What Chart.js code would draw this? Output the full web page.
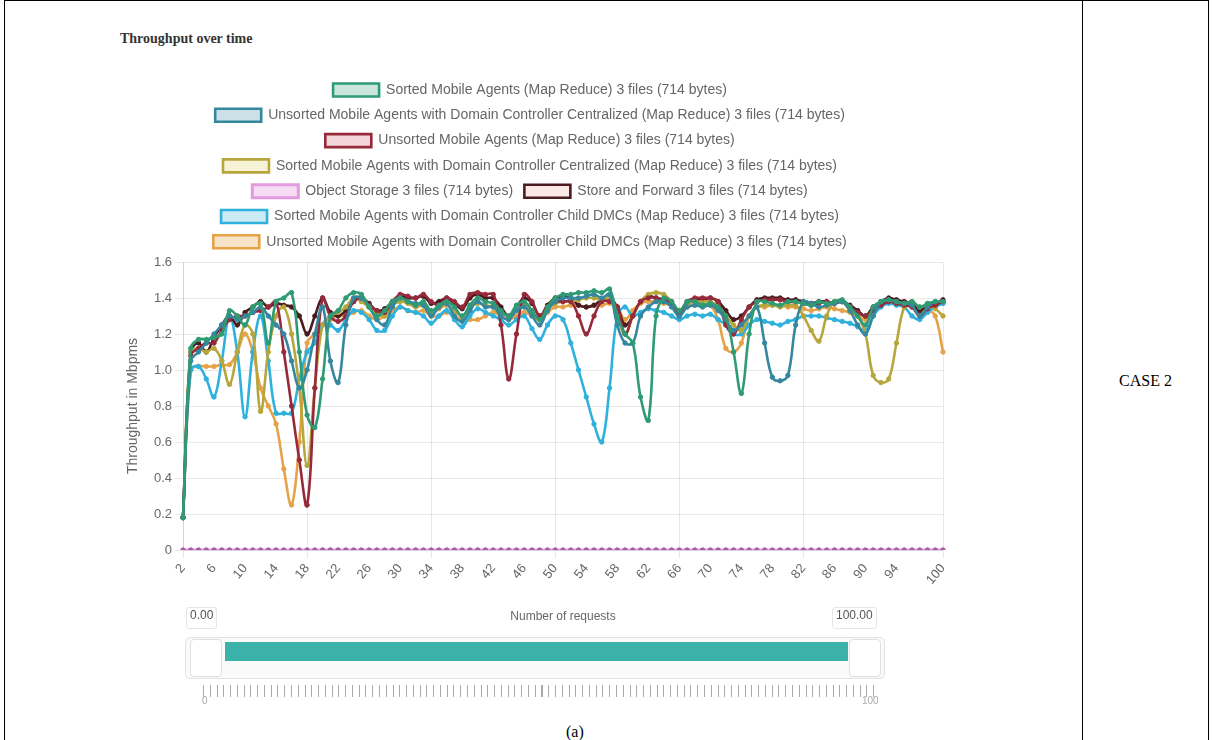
<!DOCTYPE html>
<html>
<head>
<meta charset="utf-8">
<script src="https://cdn.jsdelivr.net/npm/chart.js@4.4.1/dist/chart.umd.min.js"></script>
<style>
  html, body { margin: 0; padding: 0; background: #fff; width: 1213px; height: 740px; overflow: hidden; }
  .frame { position: absolute; left: 4px; top: 0; width: 1205px; height: 800px; border: 1px solid #000; box-sizing: border-box; }
  .divider { position: absolute; left: 1082px; top: 0; width: 1px; height: 740px; background: #000; }
  .case { position: absolute; left: 1083px; width: 125px; top: 372px; text-align: center;
          font: 16px "Liberation Serif", "Times New Roman", serif; color: #000; }
  .caption { position: absolute; left: 566px; top: 723px; font: 16px "Liberation Serif", "Times New Roman", serif; color: #000; }
  .panel-title { position: absolute; left: 120px; top: 31px; font: bold 14px "Liberation Serif", serif; color: #333; }
  #wrap { position: absolute; left: 112px; top: 60px; width: 836px; height: 580px; }
  .val { position: absolute; top: 607px; height: 20px; line-height: 20px; padding: 0 3px;
         font: 12px "Liberation Sans", Arial, sans-serif; color: #555;
         border: 1px solid #e6e6e6; border-radius: 3px; background: #fff; }
  .track { position: absolute; left: 185px; top: 637px; width: 700px; height: 42px;
           border: 1px solid #e2e2e2; border-radius: 5px; background: #fafafa; box-sizing: border-box; }
  .bar { position: absolute; left: 225px; top: 642px; width: 623px; height: 19px; background: #3bb2a9; }
  .handle { position: absolute; top: 639px; width: 32px; height: 38px; background: #fff;
            border: 1px solid #e0e0e0; border-radius: 4px; box-sizing: border-box; }
  .ruler { position: absolute; left: 203px; top: 685px; width: 677px; height: 12px;
           background: repeating-linear-gradient(90deg, #aaa 0, #aaa 1px, transparent 1px, transparent 6.77px); }
  .rlab { position: absolute; top: 695px; font: 10px "Liberation Sans", Arial, sans-serif; color: #aaa; }
</style>
</head>
<body>
<div class="frame"></div>
<div class="divider"></div>
<div class="case">CASE 2</div>
<div class="caption">(a)</div>

<div class="panel-title">Throughput over time</div>
<div id="wrap"><canvas id="chart"></canvas></div>

<div class="val" style="left:186px;">0.00</div>
<div class="val" style="left:832px;">100.00</div>
<div class="track"></div>
<div class="bar"></div>
<div class="handle" style="left:190px;"></div>
<div class="handle" style="left:849px;"></div>
<div class="ruler"></div>
<div class="rlab" style="left:202px;">0</div>
<div class="rlab" style="left:862px;">100</div>

<script>
// Request numbers on the x axis
const requests = [2, 3, 4, 5, 6, 7, 8, 9, 10, 11, 12, 13, 14, 15, 16, 17, 18, 19, 20, 21,
  22, 23, 24, 25, 26, 27, 28, 29, 30, 31, 32, 33, 34, 35, 36, 37, 38, 39, 40, 41,
  42, 43, 44, 45, 46, 47, 48, 49, 50, 51, 52, 53, 54, 55, 56, 57, 58, 59, 60, 61,
  62, 63, 64, 65, 66, 67, 68, 69, 70, 71, 72, 73, 74, 75, 76, 77, 78, 79, 80, 81,
  82, 83, 84, 85, 86, 87, 88, 89, 90, 91, 92, 93, 94, 95, 96, 97, 98, 99, 100];

// Throughput per request for each configuration
const sortedMobileAgents = [
  0.18, 1.12, 1.17, 1.17, 1.18, 1.2, 1.33, 1.3, 1.25, 1.35,
  1.37, 1.15, 1.38, 1.4, 1.43, 1.1, 0.75, 0.68, 0.95, 1.3,
  1.33, 1.4, 1.43, 1.42, 1.35, 1.3, 1.33, 1.38, 1.4, 1.38,
  1.36, 1.38, 1.33, 1.36, 1.38, 1.35, 1.3, 1.36, 1.4, 1.38,
  1.37, 1.33, 1.3, 1.36, 1.38, 1.33, 1.28, 1.35, 1.4, 1.42,
  1.42, 1.43, 1.43, 1.44, 1.43, 1.45, 1.3, 1.2, 1.15, 0.85,
  0.72, 1.3, 1.4, 1.38, 1.33, 1.38, 1.38, 1.36, 1.37, 1.35,
  1.3, 1.1, 0.87, 1.2, 1.38, 1.38, 1.37, 1.36, 1.38, 1.38,
  1.37, 1.36, 1.38, 1.37, 1.38, 1.39, 1.35, 1.3, 1.25, 1.35,
  1.38, 1.39, 1.38, 1.37, 1.38, 1.35, 1.37, 1.38, 1.38];

const unsortedCentralized = [
  0.18, 1.05, 1.1, 1.15, 1.2, 1.25, 1.3, 1.28, 1.3, 1.32,
  1.35, 1.3, 1.25, 1.2, 1.05, 0.9, 1.0, 1.2, 1.35, 1.05,
  0.93, 1.25, 1.4, 1.4, 1.35, 1.28, 1.25, 1.35, 1.4, 1.38,
  1.37, 1.36, 1.3, 1.35, 1.37, 1.3, 1.27, 1.33, 1.38, 1.35,
  1.35, 1.3, 1.28, 1.33, 1.35, 1.3, 1.25, 1.33, 1.38, 1.4,
  1.4, 1.4, 1.41, 1.42, 1.4, 1.42, 1.25, 1.15, 1.15, 1.3,
  1.35, 1.38, 1.38, 1.35, 1.3, 1.35, 1.36, 1.35, 1.36, 1.33,
  1.28, 1.22, 1.25, 1.3, 1.35, 1.15, 0.96, 0.94, 0.97, 1.25,
  1.38, 1.37, 1.35, 1.36, 1.37, 1.38, 1.33, 1.25, 1.2, 1.3,
  1.38, 1.39, 1.38, 1.37, 1.36, 1.3, 1.35, 1.38, 1.38];

const unsortedMobileAgents = [
  0.18, 1.08, 1.12, 1.15, 1.15, 1.22, 1.28, 1.3, 1.3, 1.32,
  1.33, 1.35, 1.38, 1.1, 0.8, 0.5, 0.25, 0.9, 1.4, 1.3,
  1.27, 1.3, 1.38, 1.4, 1.36, 1.33, 1.32, 1.38, 1.42, 1.41,
  1.4, 1.42, 1.38, 1.36, 1.4, 1.38, 1.35, 1.42, 1.43, 1.42,
  1.42, 1.25, 0.95, 1.2, 1.42, 1.38, 1.3, 1.35, 1.38, 1.38,
  1.38, 1.3, 1.2, 1.3, 1.38, 1.38, 1.35, 1.2, 1.3, 1.38,
  1.4, 1.4, 1.38, 1.38, 1.3, 1.38, 1.4, 1.4, 1.4, 1.38,
  1.25, 1.2, 1.28, 1.35, 1.38, 1.39, 1.39, 1.39, 1.38, 1.38,
  1.37, 1.36, 1.37, 1.38, 1.37, 1.38, 1.35, 1.32, 1.3, 1.33,
  1.36, 1.38, 1.37, 1.36, 1.35, 1.3, 1.34, 1.36, 1.38];

const sortedCentralized = [
  0.18, 1.1, 1.12, 1.1, 1.12, 1.05, 0.92, 1.1, 1.25, 1.2,
  0.77, 1.1, 1.3, 1.35, 1.2, 0.9, 0.47, 0.9, 1.25, 1.3,
  1.32, 1.35, 1.4, 1.38, 1.35, 1.32, 1.3, 1.36, 1.38, 1.37,
  1.35, 1.36, 1.32, 1.34, 1.36, 1.33, 1.3, 1.35, 1.37, 1.36,
  1.35, 1.32, 1.3, 1.34, 1.36, 1.32, 1.28, 1.34, 1.37, 1.38,
  1.38, 1.39, 1.4, 1.4, 1.39, 1.4, 1.3, 1.2, 1.3, 1.38,
  1.42, 1.43, 1.42, 1.38, 1.33, 1.36, 1.38, 1.38, 1.38, 1.35,
  1.3, 1.25, 1.22, 1.3, 1.35, 1.36, 1.36, 1.35, 1.36, 1.36,
  1.3, 1.22, 1.16, 1.3, 1.38, 1.38, 1.33, 1.3, 1.2, 0.97,
  0.93, 0.95, 1.15, 1.35, 1.38, 1.35, 1.36, 1.34, 1.3];

const objectStorage = [
  0, 0, 0, 0, 0, 0, 0, 0, 0, 0,
  0, 0, 0, 0, 0, 0, 0, 0, 0, 0,
  0, 0, 0, 0, 0, 0, 0, 0, 0, 0,
  0, 0, 0, 0, 0, 0, 0, 0, 0, 0,
  0, 0, 0, 0, 0, 0, 0, 0, 0, 0,
  0, 0, 0, 0, 0, 0, 0, 0, 0, 0,
  0, 0, 0, 0, 0, 0, 0, 0, 0, 0,
  0, 0, 0, 0, 0, 0, 0, 0, 0, 0,
  0, 0, 0, 0, 0, 0, 0, 0, 0, 0,
  0, 0, 0, 0, 0, 0, 0, 0, 0];

const storeAndForward = [
  0.18, 1.1, 1.15, 1.1, 1.18, 1.25, 1.3, 1.25, 1.32, 1.35,
  1.38, 1.35, 1.37, 1.36, 1.35, 1.3, 1.2, 1.3, 1.4, 1.32,
  1.3, 1.33, 1.38, 1.4, 1.37, 1.33, 1.34, 1.38, 1.41, 1.4,
  1.4, 1.41, 1.37, 1.38, 1.4, 1.37, 1.34, 1.4, 1.42, 1.4,
  1.4, 1.35, 1.3, 1.35, 1.4, 1.37, 1.3, 1.36, 1.4, 1.41,
  1.4, 1.36, 1.35, 1.36, 1.39, 1.4, 1.35, 1.25, 1.3, 1.38,
  1.41, 1.4, 1.39, 1.37, 1.32, 1.37, 1.39, 1.39, 1.4, 1.38,
  1.33, 1.28, 1.3, 1.35, 1.39, 1.4, 1.4, 1.4, 1.39, 1.39,
  1.38, 1.37, 1.38, 1.38, 1.37, 1.38, 1.36, 1.33, 1.3, 1.35,
  1.38, 1.4, 1.39, 1.38, 1.37, 1.33, 1.36, 1.37, 1.39];

const sortedChildDMCs = [
  0.18, 1.0, 1.02, 0.95, 0.85, 1.05, 1.3, 1.1, 0.74, 1.1,
  1.3, 1.05, 0.76, 0.76, 0.76, 0.95, 1.1, 1.15, 1.25, 1.25,
  1.22, 1.28, 1.33, 1.32, 1.28, 1.22, 1.22, 1.3, 1.35, 1.33,
  1.32, 1.3, 1.26, 1.3, 1.33, 1.28, 1.24, 1.3, 1.34, 1.32,
  1.3, 1.28, 1.25, 1.28, 1.3, 1.23, 1.17, 1.25, 1.3, 1.28,
  1.15, 1.0, 0.85, 0.7, 0.6, 0.9, 1.3, 1.35, 1.3, 1.32,
  1.34, 1.33, 1.32, 1.3, 1.28, 1.3, 1.31, 1.3, 1.31, 1.28,
  1.25, 1.2, 1.2, 1.25, 1.28, 1.27, 1.26, 1.25, 1.27, 1.28,
  1.3, 1.3, 1.3, 1.29, 1.28, 1.27, 1.26, 1.24, 1.22, 1.3,
  1.35, 1.37, 1.36, 1.35, 1.3, 1.28, 1.32, 1.35, 1.37];

const unsortedChildDMCs = [
  0.18, 1.0, 1.02, 1.02, 1.02, 1.03, 1.03, 1.1, 1.2, 1.1,
  0.9, 0.8, 0.7, 0.45, 0.25, 0.6, 1.15, 1.2, 1.25, 1.28,
  1.3, 1.3, 1.32, 1.33, 1.3, 1.28, 1.3, 1.33, 1.35, 1.33,
  1.32, 1.33, 1.3, 1.3, 1.32, 1.3, 1.28, 1.28, 1.28, 1.3,
  1.32, 1.3, 1.28, 1.3, 1.32, 1.3, 1.28, 1.32, 1.35, 1.35,
  1.36, 1.36, 1.35, 1.36, 1.36, 1.37, 1.35, 1.28, 1.33, 1.37,
  1.38, 1.38, 1.37, 1.36, 1.33, 1.35, 1.36, 1.36, 1.36, 1.28,
  1.12, 1.1, 1.15, 1.3, 1.35, 1.35, 1.36, 1.36, 1.35, 1.35,
  1.34, 1.33, 1.34, 1.35, 1.34, 1.33, 1.32, 1.3, 1.28, 1.33,
  1.36, 1.38, 1.37, 1.36, 1.35, 1.32, 1.33, 1.3, 1.1];

const yTicks = [0, 0.2, 0.4, 0.6, 0.8, 1.0, 1.2, 1.4, 1.6];

// Every fourth request is labelled, plus the final one
const lastIndex = requests.length - 1;
const showTick = i => (i % 4 === 0 && i < lastIndex - 2) || i === lastIndex;

function series(label, data, line, fill, point, width) {
  return {
    label, data,
    borderColor: line,
    backgroundColor: fill,
    pointBackgroundColor: point || line,
    pointBorderColor: point || line,
    pointRadius: 2.2,
    pointBorderWidth: 1,
    borderWidth: width || 2.6,
    tension: 0.4,
    fill: false
  };
}

const datasets = [
  series('Sorted Mobile Agents (Map Reduce) 3 files (714 bytes)', sortedMobileAgents, '#2f9b74', 'rgba(47,155,116,0.25)'),
  series('Unsorted Mobile Agents with Domain Controller Centralized (Map Reduce) 3 files (714 bytes)', unsortedCentralized, '#35869f', 'rgba(53,134,159,0.25)'),
  series('Unsorted Mobile Agents (Map Reduce) 3 files (714 bytes)', unsortedMobileAgents, '#962a3a', 'rgba(214,120,130,0.3)'),
  series('Sorted Mobile Agents with Domain Controller Centralized (Map Reduce) 3 files (714 bytes)', sortedCentralized, '#b7a63c', 'rgba(230,220,140,0.35)'),
  series('Object Storage 3 files (714 bytes)', objectStorage, '#e39ade', 'rgba(224,139,219,0.3)', '#a95aa6', 3),
  series('Store and Forward 3 files (714 bytes)', storeAndForward, '#4a1c20', 'rgba(240,180,170,0.3)'),
  series('Sorted Mobile Agents with Domain Controller Child DMCs (Map Reduce) 3 files (714 bytes)', sortedChildDMCs, '#2eb1dc', 'rgba(46,177,220,0.25)'),
  series('Unsorted Mobile Agents with Domain Controller Child DMCs (Map Reduce) 3 files (714 bytes)', unsortedChildDMCs, '#e6a247', 'rgba(230,162,71,0.3)')
];

// Adds a little room between the legend and the plotting area
const legendGap = {
  id: 'legendGap',
  beforeInit(chart) {
    const fit = chart.legend.fit;
    chart.legend.fit = function () { fit.call(this); this.height += 3.2; };
  }
};

const gridColor = 'rgba(0,0,0,0.09)';

new Chart(document.getElementById('chart'), {
  type: 'line',
  data: { labels: requests.map(String), datasets },
  plugins: [legendGap],
  options: {
    responsive: true,
    maintainAspectRatio: false,
    animation: false,
    layout: { padding: { top: 11.7, left: 0, right: 0, bottom: 0 } },
    plugins: {
      tooltip: { enabled: false },
      legend: {
        position: 'top',
        labels: {
          boxWidth: 46,
          boxHeight: 13,
          padding: 11.3,
          color: '#666',
          font: { family: '"Liberation Sans", Arial, sans-serif', size: 14 }
        }
      }
    },
    scales: {
      x: {
        type: 'category',
        grid: {
          color: c => showTick(c.index) ? gridColor : 'rgba(0,0,0,0)',
          tickLength: 8
        },
        border: { color: gridColor },
        ticks: {
          autoSkip: false,
          minRotation: 50,
          maxRotation: 50,
          color: '#666',
          font: { family: '"Liberation Sans", Arial, sans-serif', size: 13 },
          callback: (v, i) => showTick(i) ? requests[i] : null
        },
        title: {
          display: true,
          text: 'Number of requests',
          color: '#666',
          font: { family: '"Liberation Sans", Arial, sans-serif', size: 12 },
          padding: { top: 4, bottom: 15.8 }
        },
        afterFit(s) { s.height = 90; s.paddingLeft = 0; s.paddingRight = 0; }
      },
      y: {
        min: 0,
        max: 1.6,
        grid: { color: gridColor, tickLength: 8 },
        border: { color: gridColor },
        afterBuildTicks(s) { s.ticks = yTicks.map(v => ({ value: v })); },
        ticks: {
          color: '#666',
          padding: 3,
          font: { family: '"Liberation Sans", Arial, sans-serif', size: 13 },
          callback: v => v === 0 ? '0' : v.toFixed(1)
        },
        title: {
          display: true,
          text: 'Throughput in Mbpms',
          color: '#666',
          font: { family: '"Liberation Sans", Arial, sans-serif', size: 14 },
          padding: { top: 12.6, bottom: 4 }
        },
        afterFit(s) { s.width = 71; s.paddingTop = 0; s.paddingBottom = 0; }
      }
    }
  }
});
</script>
</body>
</html>
